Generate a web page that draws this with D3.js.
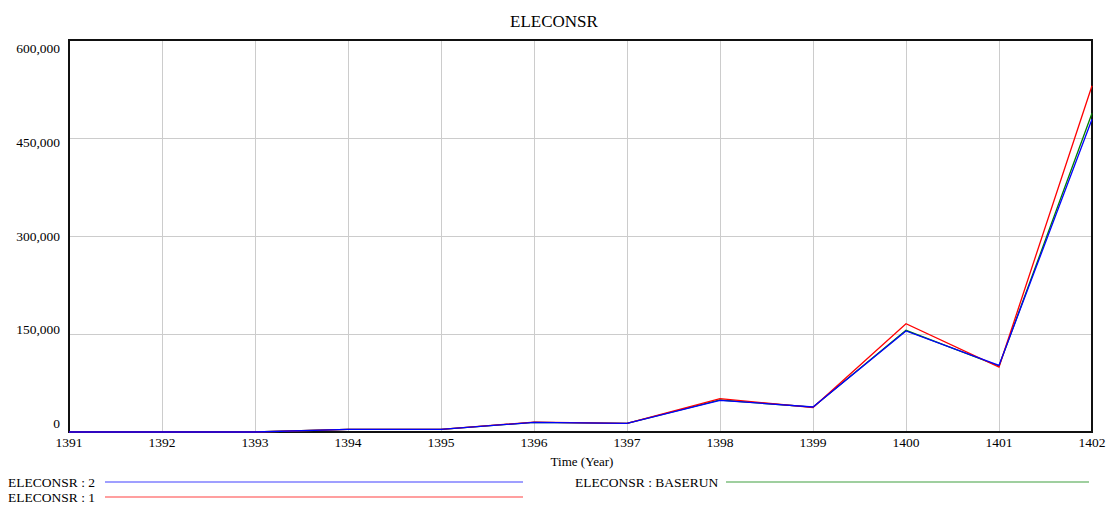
<!DOCTYPE html>
<html>
<head>
<meta charset="utf-8">
<script src="https://cdn.jsdelivr.net/npm/d3@7"></script>
<style>
  html, body { margin: 0; padding: 0; background: #fff; }
  svg { display: block; font-family: "Liberation Serif", "Times New Roman", serif; }
</style>
</head>
<body>
<svg id="chart" width="1115" height="506"></svg>
<script>
// Simulated electricity consumption (ELECONSR) for three runs
const years = [1391, 1392, 1393, 1394, 1395, 1396, 1397, 1398, 1399, 1400, 1401, 1402];
const run2 =    [0, 0, 0, 4000, 4000, 14800, 13300, 48500, 38300, 154600, 102000, 478600];
const run1 =    [0, 0, 0, 4000, 4000, 15200, 13300, 51000, 37500, 165800, 99500, 530000];
const baserun = [0, 0, 0, 4000, 4000, 14800, 13300, 49000, 38000, 155700, 101000, 487800];
const yTicks = [0, 150000, 300000, 450000, 600000];

const series = [
  { name: "ELECONSR : BASERUN", values: baserun, color: "#008000" },
  { name: "ELECONSR : 1", values: run1, color: "#ff0000" },
  { name: "ELECONSR : 2", values: run2, color: "#0000ff" }
];

const svg = d3.select("#chart");
const m = { left: 69, right: 1092, top: 40, bottom: 432 };

const x = d3.scaleLinear().domain([1391, 1402]).range([m.left, m.right]);
const y = d3.scaleLinear().domain([0, 600000]).range([m.bottom, m.top]);

// grid
svg.append("g").selectAll("line.v").data(years).join("line")
  .attr("x1", d => Math.round(x(d)) + 0.5).attr("x2", d => Math.round(x(d)) + 0.5)
  .attr("y1", m.top).attr("y2", m.bottom)
  .attr("stroke", "#cccccc").attr("stroke-width", 1);
svg.append("g").selectAll("line.h").data(yTicks).join("line")
  .attr("x1", m.left).attr("x2", m.right)
  .attr("y1", d => Math.round(y(d)) + 0.5).attr("y2", d => Math.round(y(d)) + 0.5)
  .attr("stroke", "#cccccc").attr("stroke-width", 1);

// frame
svg.append("rect")
  .attr("x", m.left).attr("y", m.top)
  .attr("width", m.right - m.left).attr("height", m.bottom - m.top)
  .attr("fill", "none").attr("stroke", "#111").attr("stroke-width", 2);

// lines, drawn over the frame so the zero stretch stays visible
const line = d3.line().x((d, i) => x(years[i])).y(d => y(d));
svg.append("g").selectAll("path").data(series).join("path")
  .attr("d", d => line(d.values))
  .attr("fill", "none")
  .attr("stroke", d => d.color)
  .attr("stroke-width", 1.3);

// y tick labels, nudged toward the middle so the end labels stay inside the frame
const fmt = d3.format(",");
const span = m.bottom - m.top;
svg.append("g").selectAll("text").data(yTicks).join("text")
  .attr("x", 60)
  .attr("y", d => y(d) + ((m.bottom - y(d)) / span - 0.5) * 17)
  .attr("dy", "0.35em")
  .attr("text-anchor", "end")
  .attr("font-size", 13.5)
  .text(d => fmt(d));

// x tick labels
svg.append("g").selectAll("text").data(years).join("text")
  .attr("x", d => x(d))
  .attr("y", 442)
  .attr("dy", "0.35em")
  .attr("text-anchor", "middle")
  .attr("font-size", 13.5)
  .text(d => d);

// axis title
svg.append("text").attr("x", 582).attr("y", 461).attr("dy", "0.35em")
  .attr("text-anchor", "middle").attr("font-size", 13).text("Time (Year)");

// chart title
svg.append("text").attr("x", 554).attr("y", 21).attr("dy", "0.35em")
  .attr("text-anchor", "middle").attr("font-size", 17).text("ELECONSR");

// legend
const legend = [
  { name: "ELECONSR : 2", color: "#0000ff", tx: 8, x1: 105, x2: 523, y: 482 },
  { name: "ELECONSR : 1", color: "#ff0000", tx: 8, x1: 105, x2: 523, y: 497 },
  { name: "ELECONSR : BASERUN", color: "#008000", tx: 575, x1: 726, x2: 1089, y: 482 }
];
const lg = svg.append("g").selectAll("g").data(legend).join("g");
lg.append("text").attr("x", d => d.tx).attr("y", d => d.y).attr("dy", "0.35em")
  .attr("font-size", 13.5).text(d => d.name);
lg.append("line").attr("x1", d => d.x1).attr("x2", d => d.x2)
  .attr("y1", d => d.y).attr("y2", d => d.y)
  .attr("stroke", d => d.color).attr("stroke-width", 1.2).attr("opacity", 0.75);
</script>
</body>
</html>
